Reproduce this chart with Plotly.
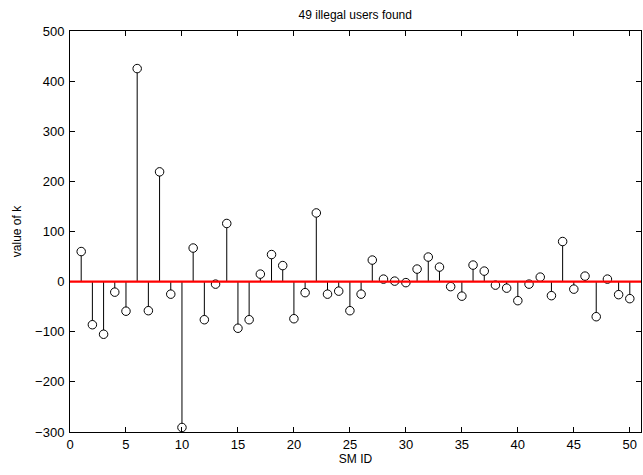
import plotly.graph_objects as go

# SM identifiers and the estimated k value for each meter
sm_id = list(range(1, 51))
k_value = [60, -86, -105, -21, -59, 425, -58, 219, -25, -291,
           67, -76, -5, 116, -93, -76, 15, 54, 32, -74,
           -22, 137, -25, -19, -58, -25, 43, 5, 1, -2,
           25, 49, 29, -10, -29, 33, 21, -7, -13, -38,
           -5, 9, -28, 80, -15, 11, -70, 5, -26, -34]

x_ticks = [0, 5, 10, 15, 20, 25, 30, 35, 40, 45, 50]
y_ticks = [-300, -200, -100, 0, 100, 200, 300, 400, 500]

# stem segments from the baseline up/down to each value
stem_x, stem_y = [], []
for x, v in zip(sm_id, k_value):
    stem_x += [x, x, None]
    stem_y += [0, v, None]

FONT = "Liberation Sans, Arial, Helvetica, sans-serif"

fig = go.Figure()
fig.add_trace(go.Scatter(x=stem_x, y=stem_y, mode="lines",
                         line=dict(color="black", width=1),
                         hoverinfo="skip", showlegend=False))
fig.add_trace(go.Scatter(x=sm_id, y=k_value, mode="markers",
                         marker=dict(symbol="circle", size=8.5, color="white",
                                     line=dict(color="black", width=1)),
                         showlegend=False))

# red zero baseline across the full axis width
fig.add_shape(type="line", xref="paper", x0=0, x1=1, yref="y", y0=0, y1=0,
              line=dict(color="#ff0000", width=2.2), layer="above")

axis_common = dict(showgrid=False, zeroline=False, showline=True,
                   linecolor="black", linewidth=1, mirror="ticks",
                   ticks="inside", ticklen=5, tickcolor="black", tickwidth=1,
                   tickfont=dict(family=FONT, size=13, color="black"))

fig.update_xaxes(range=[0, 51], tickmode="array", tickvals=x_ticks,
                 title=dict(text="SM ID", standoff=3,
                            font=dict(family=FONT, size=12, color="black")),
                 **axis_common)
fig.update_yaxes(range=[-300, 500], tickmode="array", tickvals=y_ticks,
                 ticklabelstandoff=2,
                 title=dict(text="value of k", standoff=10,
                            font=dict(family=FONT, size=12, color="black")),
                 **axis_common)

fig.update_layout(
    width=643, height=475,
    margin=dict(l=70, r=2, t=31, b=43),
    paper_bgcolor="white", plot_bgcolor="white",
    title=dict(text="49 illegal users found", x=0.5525, xanchor="center",
               y=1 - 15 / 475, yanchor="middle",
               font=dict(family=FONT, size=12, color="black")),
    font=dict(family=FONT, size=12, color="black"),
)

fig.write_html("out.html")
